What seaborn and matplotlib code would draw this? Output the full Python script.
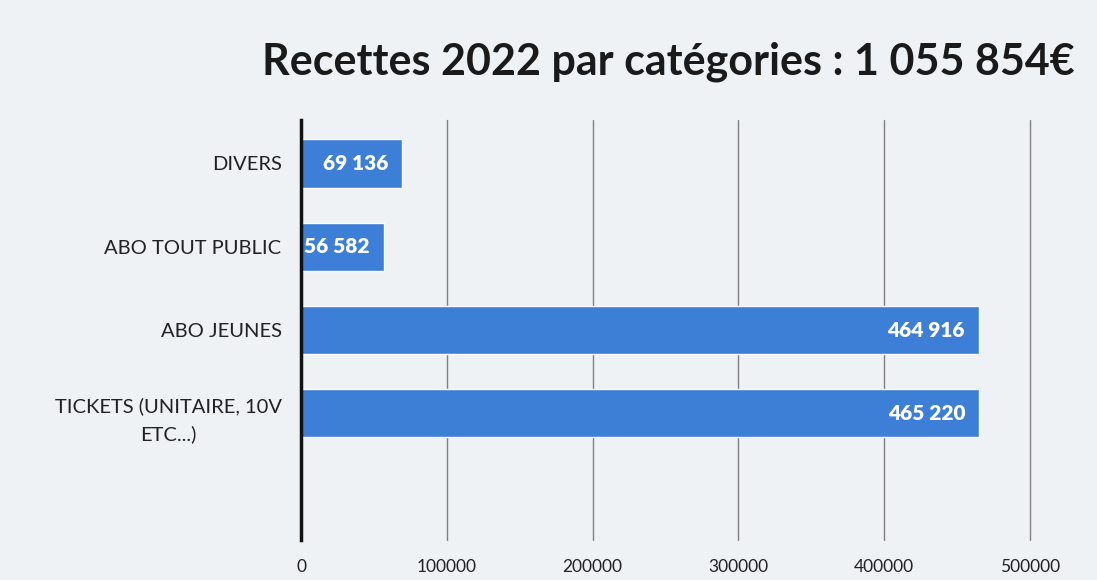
import matplotlib
matplotlib.use("Agg")
import matplotlib.pyplot as plt
import seaborn as sns
import pandas as pd

categories = ["DIVERS", "ABO TOUT PUBLIC", "ABO JEUNES", "TICKETS (UNITAIRE, 10V\nETC...)"]
values = [69136, 56582, 464916, 465220]
x_ticks = [0, 100000, 200000, 300000, 400000, 500000]
title = "Recettes 2022 par catégories : 1 055 854€"

df = pd.DataFrame({"categorie": categories, "montant": values})

sns.set_theme(style="white")
plt.rcParams["font.family"] = ["Lato", "DejaVu Sans"]

bg = "#eef2f4"
fig = plt.figure(figsize=(10.97, 5.8), dpi=100, facecolor=bg)
ax = fig.add_axes([0.2744, 0.069, 0.6645, 0.724])
ax.set_facecolor(bg)

sns.barplot(data=df, x="montant", y="categorie", orient="h", color="#3d7fd6",
            width=0.58, saturation=1, ax=ax, zorder=3)

ax.set_xlim(0, 500000)
ax.set_ylim(4.52, -0.52)
ax.set_xticks(x_ticks)
ax.set_xticklabels([str(t) for t in x_ticks], fontsize=12.5, color="#222222")
ax.tick_params(axis="x", length=0, pad=14)
ax.tick_params(axis="y", length=0, pad=14, labelsize=14.5, labelcolor="#222222")
for lbl in ax.get_yticklabels():
    lbl.set_multialignment("center")
    lbl.set_linespacing(1.7)

ax.xaxis.grid(True, color="#808080", linewidth=1, zorder=0)
for gl in ax.get_xgridlines():
    gl.set_clip_on(False)
ax.yaxis.grid(False)
for s in ["top", "right", "bottom"]:
    ax.spines[s].set_visible(False)
ax.spines["left"].set_color("#111111")
ax.spines["left"].set_linewidth(2.5)
ax.spines["left"].set_zorder(4)
ax.set_xlabel("")
ax.set_ylabel("")

for i, v in enumerate(values):
    txt = f"{v:,}".replace(",", " ")
    ax.annotate(txt, xy=(v, i), xytext=(-10, 0), textcoords="offset points",
                ha="right", va="center", color="white", fontsize=15,
                fontweight="heavy", zorder=5)

fig.text(0.609, 0.893, title, ha="center", va="center", fontsize=31,
         fontweight="bold", color="#1a1a1a")

fig.savefig("out.png", dpi=100, facecolor=bg)
